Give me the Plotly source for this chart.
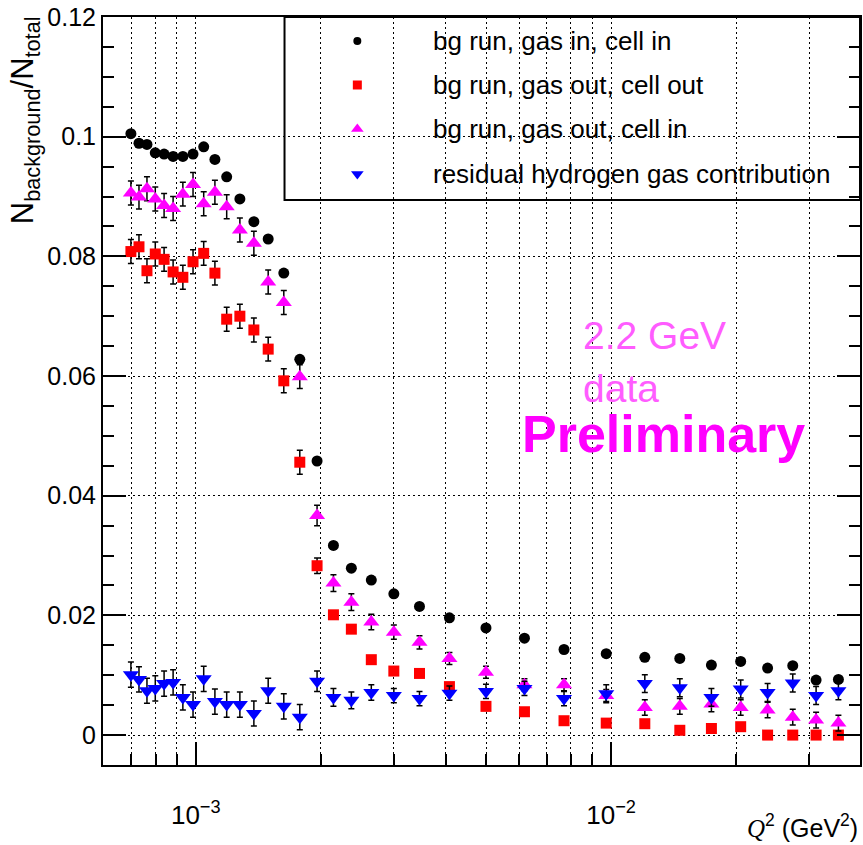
import plotly.graph_objects as go

# Q^2 bin centres (GeV^2)
q2 = [0.698e-3, 0.730e-3, 0.763e-3, 0.799e-3, 0.839e-3, 0.882e-3, 0.931e-3,
      0.985e-3, 1.045e-3, 1.112e-3, 1.187e-3, 1.277e-3, 1.380e-3, 1.494e-3,
      1.629e-3, 1.780e-3, 1.959e-3, 2.145e-3, 2.369e-3, 2.646e-3, 2.998e-3,
      3.456e-3, 4.080e-3, 4.996e-3, 6.184e-3, 7.70e-3, 9.73e-3, 12.05e-3,
      14.63e-3, 17.43e-3, 20.50e-3, 23.80e-3, 27.36e-3, 31.14e-3, 35.24e-3]

# background fractions
gas_in_cell_in = [0.1005, 0.0989, 0.0987, 0.0973, 0.0971, 0.0967, 0.0967,
                  0.0971, 0.0983, 0.0962, 0.0933, 0.0896, 0.0858, 0.0829,
                  0.0772, 0.0628, 0.0458, 0.0317, 0.0279, 0.0259, 0.0236,
                  0.0215, 0.0196, 0.0179, 0.0162, 0.0143, 0.0136, 0.0130,
                  0.0128, 0.0117, 0.0123, 0.0112, 0.0116, 0.0092, 0.0093]

gas_out_cell_out = [0.0808, 0.0816, 0.0776, 0.0804, 0.0795, 0.0774, 0.0765,
                    0.0791, 0.0805, 0.0772, 0.0695, 0.0700, 0.0677, 0.0645,
                    0.0592, 0.0456, 0.0283, 0.0201, 0.0177, 0.0126, 0.0107,
                    0.0103, 0.0081, 0.0048, 0.0039, 0.0024, 0.0020, 0.0019,
                    0.0008, 0.0011, 0.0014, 0.0000, 0.0000, 0.0000, 0.0000]
gas_out_cell_out_err = [0.0020] * 16 + [0.0013] + [0.0006] * 18

gas_out_cell_in = [0.0906, 0.0899, 0.0913, 0.0896, 0.0885, 0.0880, 0.0904,
                   0.0920, 0.0888, 0.0907, 0.0883, 0.0844, 0.0822, 0.0757,
                   0.0723, 0.0599, 0.0367, 0.0254, 0.0222, 0.0189, 0.0172,
                   0.0155, 0.0128, 0.0105, 0.0084, 0.0084, 0.0066, 0.0046,
                   0.0048, 0.0052, 0.0046, 0.0042, 0.0030, 0.0025, 0.0020]
gas_out_cell_in_err = ([0.0020] * 16 + [0.0017, 0.0014, 0.0014, 0.0013, 0.0012,
                       0.0011] + [0.0010] * 5 + [0.0013] * 8)

residual_h2 = [0.0101, 0.0093, 0.0074, 0.0078, 0.0086, 0.0088, 0.0063,
               0.0051, 0.0094, 0.0056, 0.0051, 0.0051, 0.0036, 0.0074,
               0.0048, 0.0030, 0.0090, 0.0063, 0.0058, 0.0071, 0.0066,
               0.0061, 0.0070, 0.0073, 0.0078, 0.0061, 0.0069, 0.0086,
               0.0079, 0.0063, 0.0077, 0.0071, 0.0087, 0.0066, 0.0074]
residual_h2_err = ([0.0021] * 16 + [0.0017, 0.0015, 0.0014, 0.0013] +
                   [0.0012] * 6 + [0.0015] * 9)

legend_labels = ["bg run, gas in, cell in", "bg run, gas out, cell out",
                 "bg run, gas out, cell in", "residual hydrogen gas contribution"]

x_major = [1e-3, 1e-2]
x_major_text = ["10<sup>\u22123</sup>", "10<sup>\u22122</sup>"]
x_minor = [6e-4, 7e-4, 8e-4, 9e-4, 2e-3, 3e-3, 4e-3, 5e-3, 6e-3, 7e-3, 8e-3,
           9e-3, 2e-2, 3e-2]

FONT = "Liberation Sans, Arial, sans-serif"

W, H = 863, 845
L, R, T, B = 103, 862, 17, 765


def px(x):
    return (x - L) / (R - L)


def py(y):
    return (B - y) / (B - T)


# (values, errors, colour, symbol, plot size, legend size)
series = [
    (gas_in_cell_in, None, "black", "circle", 11, 8),
    (gas_out_cell_out, gas_out_cell_out_err, "#ff0000", "square", 11, 9),
    (gas_out_cell_in, gas_out_cell_in_err, "#ff00ff", "triangle-up", 14, 11),
    (residual_h2, residual_h2_err, "#0000ff", "triangle-down", 14, 11),
]

fig = go.Figure()
for (vals, errs, color, sym, size, _), label in zip(series, legend_labels):
    fig.add_trace(go.Scatter(
        x=q2, y=vals, mode="markers", name=label, showlegend=False,
        marker=dict(symbol=sym, size=size, color=color, line=dict(width=0)),
        error_y=dict(type="data", array=errs, visible=errs is not None,
                     color="black", thickness=1.5, width=3),
    ))

# legend box
fig.add_shape(type="rect", xref="paper", yref="paper",
              x0=px(285), x1=px(R), y0=py(T), y1=py(200),
              line=dict(color="black", width=2), fillcolor="white",
              layer="between")

# legend entries, placed in pixel-unit overlay axes
row_y = [41, 85, 129, 174]
for (vals, errs, color, sym, _, lsize), label, ry in zip(series, legend_labels, row_y):
    fig.add_trace(go.Scatter(
        x=[358], y=[ry], xaxis="x2", yaxis="y2", mode="markers",
        showlegend=False, hoverinfo="skip",
        marker=dict(symbol=sym, size=lsize, color=color, line=dict(width=0)),
    ))
    fig.add_annotation(x=px(432), y=py(ry), xref="paper", yref="paper",
                       text=label, showarrow=False, xanchor="left",
                       yanchor="middle",
                       font=dict(family=FONT, size=26, color="black"))

# labels on the canvas
fig.add_annotation(x=px(582), y=py(335), xref="paper", yref="paper",
                   text="2.2 GeV", showarrow=False, xanchor="left",
                   yanchor="middle",
                   font=dict(family=FONT, size=39, color="#ff5cff"))
fig.add_annotation(x=px(582), y=py(388), xref="paper", yref="paper",
                   text="data", showarrow=False, xanchor="left",
                   yanchor="middle",
                   font=dict(family=FONT, size=39, color="#ff5cff"))
fig.add_annotation(x=px(521), y=py(434), xref="paper", yref="paper",
                   text="<b>Preliminary</b>", showarrow=False,
                   xanchor="left", yanchor="middle",
                   font=dict(family=FONT, size=52, color="#ff00ff"))

# axis titles
fig.add_annotation(x=px(25), y=py(120), xref="paper", yref="paper",
                   text="N<sub>background</sub>/N<sub>total</sub>",
                   textangle=-90, showarrow=False, xanchor="center",
                   yanchor="middle",
                   font=dict(family=FONT, size=31, color="black"))
fig.add_annotation(x=1.0, y=py(826), xref="paper", yref="paper",
                   text="<span style=\"font-family:'Liberation Serif'\"><i>Q</i></span>"
                        "<sup>2</sup> (GeV<sup>2</sup>)",
                   showarrow=False, xanchor="right", yanchor="middle",
                   font=dict(family=FONT, size=25, color="black"))

grid_dash = "2px,3px"

fig.update_layout(
    width=W, height=H,
    margin=dict(l=L, r=W - R, t=T, b=H - B, pad=0),
    paper_bgcolor="white", plot_bgcolor="white",
    font=dict(family=FONT, color="black"),
    xaxis=dict(
        type="log", range=[-3.2233, -1.401],
        tickmode="array", tickvals=x_major, ticktext=x_major_text,
        ticks="inside", ticklen=23, tickwidth=1.5, tickcolor="black",
        tickfont=dict(family=FONT, size=26, color="black"),
        ticklabelstandoff=26,
        showgrid=True, gridcolor="black", gridwidth=1, griddash=grid_dash,
        minor=dict(tickmode="array", tickvals=x_minor, ticks="inside",
                   ticklen=11, tickwidth=1.5, tickcolor="black",
                   showgrid=True, gridcolor="black", gridwidth=1,
                   griddash=grid_dash),
        showline=True, linecolor="black", linewidth=2, mirror=True,
        zeroline=False,
    ),
    yaxis=dict(
        range=[-0.005, 0.12], tickmode="linear", tick0=0, dtick=0.02,
        ticks="inside", ticklen=23, tickwidth=1.5, tickcolor="black",
        tickfont=dict(family=FONT, size=25, color="black"),
        showgrid=True, gridcolor="black", gridwidth=1, griddash=grid_dash,
        minor=dict(tick0=0, dtick=0.005, ticks="inside", ticklen=11,
                   tickwidth=1.5, tickcolor="black", showgrid=False),
        showline=True, linecolor="black", linewidth=2, mirror="ticks",
        zeroline=False,
    ),
    xaxis2=dict(domain=[0, 1], range=[L, R], overlaying="x", anchor="y2",
                visible=False, fixedrange=True),
    yaxis2=dict(domain=[0, 1], range=[B, T], overlaying="y", anchor="x2",
                visible=False, fixedrange=True),
)

fig.write_html("out.html")
